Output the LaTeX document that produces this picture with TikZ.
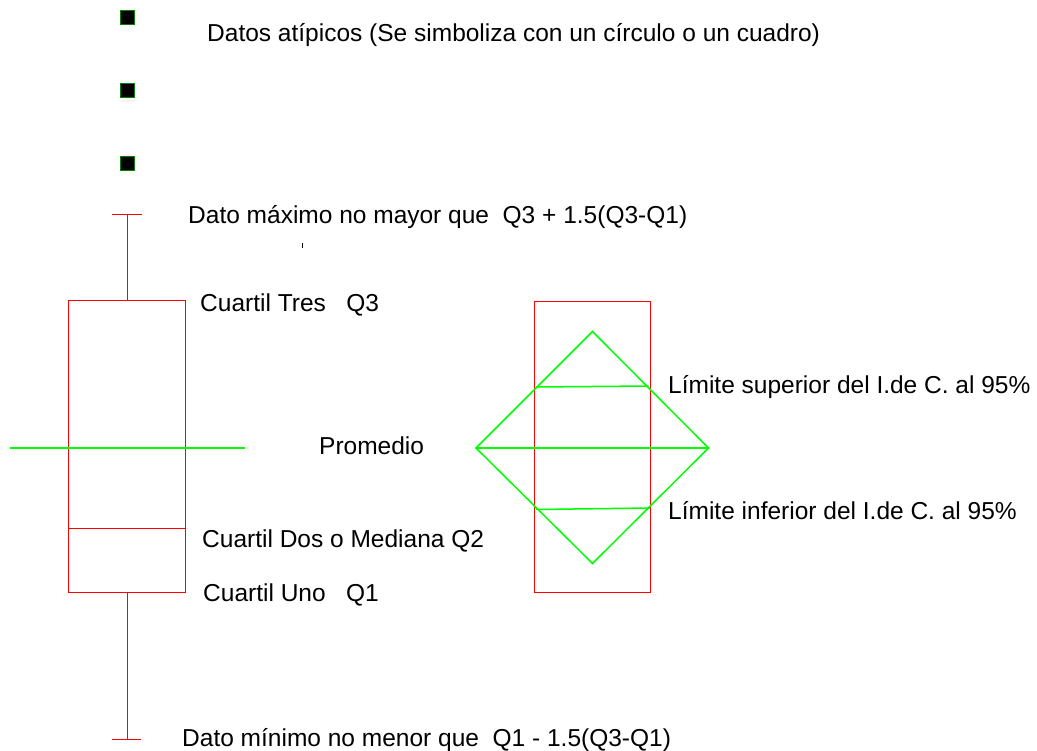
\documentclass[tikz,border=0pt]{standalone}
\usepackage{fontspec}
\setmainfont{Liberation Sans}
\begin{document}
\begin{tikzpicture}[x=1pt,y=-1pt,
  lbl/.style={anchor=base west, inner sep=0pt, font=\fontsize{24.5}{28}\selectfont},
  caja/.style={draw=red, line width=1pt},
  verde/.style={draw=green, line width=1.5pt},
  atipico/.style={fill=black, draw=green!50!black, line width=1pt}]
\useasboundingbox (0,0) rectangle (1037,751);
% datos atipicos
\filldraw[atipico] (120.5,11) rectangle (134.5,25);
\filldraw[atipico] (120.5,84) rectangle (134.5,98);
\filldraw[atipico] (120.5,156.5) rectangle (134.5,170.5);
% diagrama de caja
\draw[caja] (112,214.5) -- (142,214.5);
\draw[caja] (127.5,214.5) -- (127.5,300.5);
\draw[caja] (68.5,300.5) rectangle (185.5,592.5);
\draw[caja] (68.5,528) -- (185.5,528);
\draw[caja] (127.5,592.5) -- (127.5,739);
\draw[caja] (112,739) -- (141,739);
\draw[verde] (10,448) -- (245,448);
\draw[black, line width=0.8pt] (302,243) -- (302,248);
% intervalo de confianza
\draw[caja] (534,302) rectangle (650.5,592.5);
\draw[verde] (592.5,331.5) -- (708.5,448) -- (592.5,563.5) -- (476,448) -- cycle;
\draw[verde] (476,448) -- (708.5,448);
\draw[verde] (536,387) -- (648.5,386);
\draw[verde] (536,509.5) -- (650,508);
% textos
\node[lbl] (atipicos) at (207,42) {Datos atípicos (Se simboliza con un círculo o un cuadro)};
\node[lbl] (maximo) at (188,224) {Dato máximo no mayor que\ \ Q3 + 1.5(Q3-Q1)};
\node[lbl] (q3) at (200,312) {Cuartil Tres\ \ \ Q3};
\node[lbl] (promedio) at (319,454) {Promedio};
\node[lbl] (superior) at (668,394) {Límite superior del I.de C. al 95\%};
\node[lbl] (inferior) at (668,519) {Límite inferior del I.de C. al 95\%};
\node[lbl] (q2) at (202,547) {Cuartil Dos o Mediana Q2};
\node[lbl] (q1) at (203,601) {Cuartil Uno\ \ \ Q1};
\node[lbl] (minimo) at (182,746) {Dato mínimo no menor que\ \ Q1 - 1.5(Q3-Q1)};
\end{tikzpicture}
\end{document}
